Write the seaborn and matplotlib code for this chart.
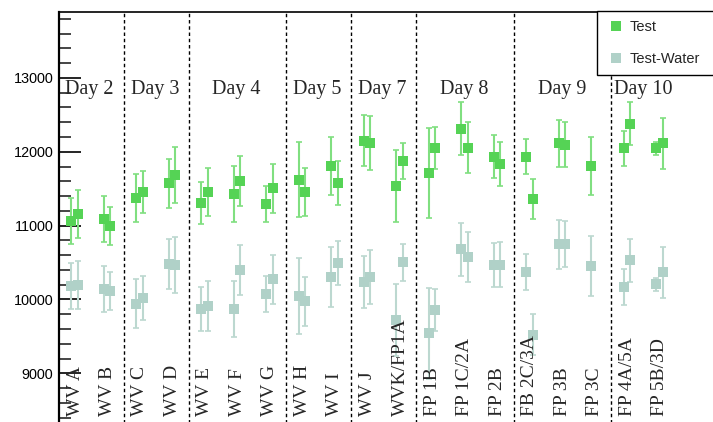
import numpy as np
import pandas as pd
import matplotlib
matplotlib.use("Agg")
import matplotlib.pyplot as plt
from matplotlib.lines import Line2D
from matplotlib.ticker import MultipleLocator
import seaborn as sns

# Samples along the x axis
categories = ["WV A", "WV B", "WV C", "WV D", "WV E", "WV F", "WV G", "WV H",
              "WV I", "WV J", "WVK/FP1A", "FP 1B", "FP 1C/2A", "FP 2B",
              "FB 2C/3A", "FP 3B", "FP 3C", "FP 4A/5A", "FP 5B/3D"]

# Two measurements per sample (the second one is missing for FP 3C)
test_a = [11063, 11094, 11375, 11573, 11307, 11424, 11293, 11622, 11804, 12151,
          11536, 11718, 12313, 11934, 11934, 12115, 11804, 12047, 12047]
test_a_err = [310, 310, 320, 335, 290, 380, 240, 510, 395, 350,
              490, 610, 360, 290, 235, 320, 395, 240, 90]
test_b = [11158, 10995, 11456, 11690, 11456, 11604, 11505, 11456, 11573, 12119,
          11871, 12052, 12052, 11835, 11357, 12097, np.nan, 12381, 12115]
test_b_err = [320, 262, 290, 380, 327, 345, 330, 320, 296, 363,
              245, 290, 345, 300, 270, 305, np.nan, 295, 343]

water_a = [10187, 10138, 9943, 10480, 9871, 9871, 10074, 10051, 10300, 10236,
           9722, 9542, 10679, 10467, 10368, 10747, 10449, 10169, 10205]
water_a_err = [310, 310, 330, 335, 300, 375, 240, 515, 405, 355,
               490, 615, 360, 295, 245, 330, 405, 245, 90]
water_b = [10190, 10111, 10020, 10467, 9907, 10399, 10273, 9975, 10498, 10304,
           10503, 9857, 10580, 10467, 9523, 10747, np.nan, 10530, 10368]
water_b_err = [325, 260, 295, 380, 340, 345, 330, 330, 300, 360,
               250, 285, 340, 305, 275, 310, np.nan, 295, 345]

# Day groups: label positions and separators between groups
day_labels = ["Day 2", "Day 3", "Day 4", "Day 5", "Day 7", "Day 8", "Day 9", "Day 10"]
day_pos = [0.45, 2.46, 4.95, 7.45, 9.45, 11.97, 14.98, 17.48]
day_bounds = [1.5, 3.5, 6.5, 8.5, 10.5, 13.5, 16.5]

series_names = ["Test", "Test-Water"]
offsets = [-0.11, 0.09]

marker_colors = {"Test": "#55d355", "Test-Water": "#b0d1c8"}
error_colors = {"Test": "#80df80", "Test-Water": "#bcd8d0"}

# Long-format table for seaborn
idx = np.arange(len(categories))
frames = []
for name, runs in (("Test", [(test_a, test_a_err), (test_b, test_b_err)]),
                   ("Test-Water", [(water_a, water_a_err), (water_b, water_b_err)])):
    for off, (vals, errs) in zip(offsets, runs):
        frames.append(pd.DataFrame({"pos": idx + off, "value": vals,
                                    "err": errs, "series": name}))
df = pd.concat(frames, ignore_index=True).dropna()

sns.set_style("white")
plt.rcParams["font.family"] = ["Liberation Sans", "DejaVu Sans"]

fig = plt.figure(figsize=(7.13, 4.22), dpi=100)
ymin, ymax = 8200, 13900
xmin, xmax = -0.5, 20.0
px_per_y = 0.07383
px_per_x = 32.5
ax_h = (ymax - ymin) * px_per_y
ax_w = (xmax - xmin) * px_per_x
ax = fig.add_axes([58.75 / 713, (422 - 11.5 - ax_h) / 422, ax_w / 713, ax_h / 422])

for name in series_names:
    sub = df[df["series"] == name]
    ax.errorbar(sub["pos"], sub["value"], yerr=sub["err"], fmt="none",
                ecolor=error_colors[name], elinewidth=1.5, capsize=2.3,
                capthick=1.2, zorder=2)

sns.scatterplot(data=df, x="pos", y="value", hue="series", hue_order=series_names,
                palette=marker_colors, marker="s", s=52, linewidth=0,
                legend=False, ax=ax, zorder=3)

for b in day_bounds:
    ax.axvline(b, color="black", linestyle=(0, (2.5, 2.0)), linewidth=1.0, zorder=1)

ax.set_xlim(xmin, xmax)
ax.set_ylim(ymin, ymax)
ax.set_xlabel("")
ax.set_ylabel("")
ax.set_xticks([])
ax.yaxis.set_major_locator(MultipleLocator(1000))
ax.yaxis.set_minor_locator(MultipleLocator(200))
ax.tick_params(axis="y", which="major", direction="in", length=16, width=1.2,
               labelsize=10.4, pad=4, left=True, colors="black")
ax.tick_params(axis="y", which="minor", direction="in", length=8.5, width=1.2, left=True)
for side in ("left", "top", "right", "bottom"):
    ax.spines[side].set_color("black")
ax.spines["left"].set_linewidth(1.6)
ax.spines["top"].set_linewidth(1.2)

for i, name in enumerate(categories):
    ax.text(i, 8420, name, rotation=90, ha="center", va="bottom",
            fontsize=14, family=["Liberation Serif", "DejaVu Serif"], zorder=4)

for pos, lbl in zip(day_pos, day_labels):
    ax.text(pos, 12780, lbl, ha="center", va="baseline", fontsize=14.5,
            family=["Liberation Serif", "DejaVu Serif"], zorder=4)

handles = [Line2D([], [], linestyle="none", marker="s", markersize=6.5,
                  markerfacecolor=marker_colors[n], markeredgewidth=0)
           for n in series_names]
leg = ax.legend(handles, series_names, loc="upper left",
                bbox_to_anchor=(597 / 713, (422 - 74) / 422, 140 / 713, 63 / 422),
                bbox_transform=fig.transFigure, mode="expand", borderaxespad=0,
                fontsize=10.5, frameon=True, fancybox=False, framealpha=1,
                edgecolor="black", borderpad=0.62, labelspacing=1.25,
                handlelength=1.3, handletextpad=0.35)
leg.get_frame().set_linewidth(1.0)

fig.savefig("out.png", dpi=100)
